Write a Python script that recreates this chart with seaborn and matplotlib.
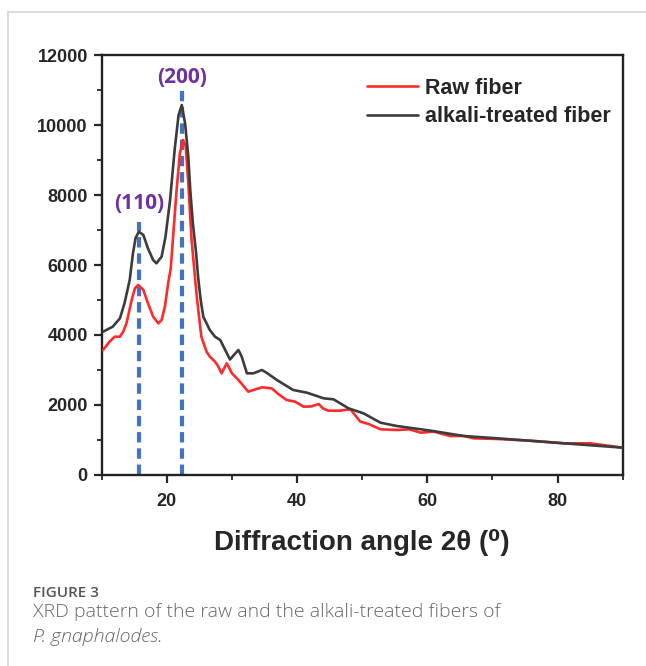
import numpy as np
import pandas as pd
import matplotlib
matplotlib.use("Agg")
import matplotlib.pyplot as plt
from matplotlib.lines import Line2D
from matplotlib.ticker import MultipleLocator
import seaborn as sns

# ---- data ----
raw_angle = [10.2, 11.2, 12.0, 12.8, 13.3, 13.8, 14.6, 15.1, 15.6, 16.4, 17.1, 17.9, 18.7, 19.2,
             19.7, 20.2, 20.6, 21.0, 21.5, 22.0, 22.5, 22.9, 23.3, 23.8, 24.6, 25.3, 26.1, 26.6,
             27.4, 27.9, 28.4, 28.8, 29.2, 29.6, 30.0, 31.0, 32.5, 33.5, 34.6, 36.1, 37.2, 38.4,
             39.7, 41.0, 42.2, 43.3, 44.0, 44.8, 46.6, 47.4, 48.2, 49.7, 51.0, 52.8, 55.3, 57.2,
             59.0, 61.0, 63.5, 65.6, 67.1, 70.7, 75.8, 81.0, 85.0, 90.0]
raw_intensity = [3571, 3810, 3952, 3952, 4095, 4333, 5000, 5333, 5429, 5286, 4905, 4524, 4333, 4429,
                 4810, 5476, 5900, 6905, 8143, 9190, 9571, 9381, 8333, 6714, 5095, 3952, 3524, 3381,
                 3238, 3100, 2905, 3050, 3190, 3050, 2905, 2714, 2381, 2440, 2505, 2476, 2300, 2143,
                 2095, 1952, 1960, 2029, 1900, 1838, 1838, 1860, 1876, 1524, 1457, 1305, 1286, 1305,
                 1210, 1238, 1114, 1114, 1048, 1029, 981, 905, 905, 781]

alk_angle = [10.2, 11.7, 12.8, 13.5, 14.3, 14.8, 15.2, 15.7, 16.4, 17.1, 17.9, 18.4, 19.2, 19.8,
             20.5, 21.2, 21.8, 22.3, 22.8, 23.3, 23.6, 24.0, 24.5, 24.8, 25.2, 25.6, 26.6, 27.4,
             28.2, 29.7, 30.3, 31.0, 31.5, 32.3, 33.3, 34.6, 35.3, 36.9, 39.4, 41.5, 44.1, 45.6,
             47.9, 50.2, 52.8, 55.3, 60.5, 65.6, 70.7, 81.0, 90.0]
alk_intensity = [4094, 4238, 4476, 4905, 5571, 6333, 6771, 6950, 6857, 6476, 6143, 6048, 6238, 6810,
                 7857, 9286, 10286, 10571, 10048, 9095, 8143, 7190, 6333, 5667, 5000, 4524, 4143, 3950,
                 3857, 3300, 3429, 3571, 3381, 2905, 2905, 3000, 2924, 2714, 2429, 2352, 2190, 2162,
                 1905, 1762, 1495, 1400, 1267, 1114, 1048, 905, 781]

series_names = ["Raw fiber", "alkali-treated fiber"]
peak_labels = ["(110)", "(200)"]
peak_angles = [15.7, 22.3]
peak_line_tops = [7240, 11000]
peak_label_y = [7450, 11050]

x_ticks = [20, 40, 60, 80]
y_ticks = [0, 2000, 4000, 6000, 8000, 10000, 12000]

df = pd.concat([
    pd.DataFrame({"angle": raw_angle, "intensity": raw_intensity, "series": series_names[0]}),
    pd.DataFrame({"angle": alk_angle, "intensity": alk_intensity, "series": series_names[1]}),
])

sns.set_style("ticks")
plt.rcParams["font.family"] = ["Liberation Sans", "DejaVu Sans"]

fig = plt.figure(figsize=(6.46, 6.66), dpi=100)
ax = fig.add_axes([101.7 / 646, 0.2868, 521 / 646, 0.6306])

# dashed peak markers
for a, top in zip(peak_angles, peak_line_tops):
    ax.vlines(a, 0, top, colors="#4472c4", linestyles=(0, (2.5, 1.4)), linewidth=3.0, zorder=1)

palette = {series_names[0]: "#ff2a2a", series_names[1]: "#3c3c3c"}
sns.lineplot(data=df, x="angle", y="intensity", hue="series", palette=palette,
             hue_order=series_names, linewidth=1.9, ax=ax, sort=True, zorder=3)

for lab, a, yy in zip(peak_labels, peak_angles, peak_label_y):
    ax.text(a, yy, lab, ha="center", va="bottom", color="#7030a0",
            fontsize=15, fontweight="bold", family=["Open Sans", "DejaVu Sans"])

ax.set_xlim(10, 90)
ax.set_ylim(0, 12000)
ax.set_xticks(x_ticks)
ax.set_yticks(y_ticks)
ax.xaxis.set_minor_locator(MultipleLocator(10))
ax.yaxis.set_minor_locator(MultipleLocator(1000))
ax.tick_params(which="major", direction="out", length=6, width=1.6, labelsize=13, pad=4)
ax.tick_params(axis="x", which="major", pad=7)
ax.tick_params(which="minor", direction="out", length=3.5, width=1.3)
for lbl in ax.get_xticklabels() + ax.get_yticklabels():
    lbl.set_fontweight("bold")
for sp in ax.spines.values():
    sp.set_linewidth(1.7)
    sp.set_color("#222222")
    sp.set_visible(True)

ax.set_xlabel("Diffraction angle 2θ (⁰)", fontsize=20, fontweight="bold", labelpad=14)
ax.set_ylabel("")

leg = ax.legend(loc="upper right", bbox_to_anchor=(1.014, 0.992), frameon=False,
                handlelength=2.4, handletextpad=0.3, labelspacing=0.35,
                prop={"size": 15.5, "weight": "bold"})

# page frame lines and caption
fig.add_artist(Line2D([8/646, 1], [1 - 12/666, 1 - 12/666], color="#d4d4d4", linewidth=1.2))
fig.add_artist(Line2D([8/646, 8/646], [0, 1 - 12/666], color="#d4d4d4", linewidth=1.2))
fig.text(33/646, 1 - 593/666, "FIGURE 3", fontsize=11, color="#555555",
         family=["Open Sans", "DejaVu Sans"], va="center", fontweight="semibold")
fig.text(33/646, 1 - 612/666, "XRD pattern of the raw and the alkali-treated fibers of",
         fontsize=14, color="#666666", family=["Open Sans", "DejaVu Sans"], va="center",
         fontweight="light")
fig.text(33/646, 1 - 637/666, "P. gnaphalodes.", fontsize=14, color="#666666",
         family=["Open Sans", "DejaVu Sans"], va="center", style="italic", fontweight="light")

fig.savefig("out.png", dpi=100, facecolor="white")
